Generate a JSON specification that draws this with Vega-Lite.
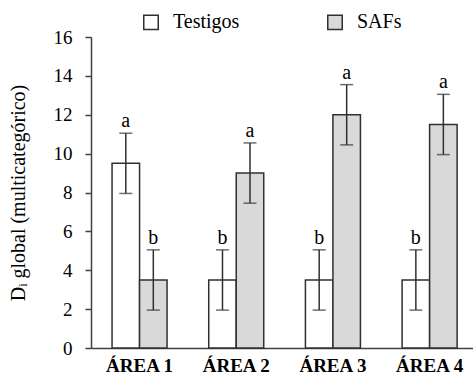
{
  "$schema": "https://vega.github.io/schema/vega-lite/v6.json",
  "width": 382,
  "height": 311,
  "autosize": "none",
  "padding": {"left": 91, "top": 37, "right": 0, "bottom": 37},
  "background": "white",
  "config": {
    "view": {"stroke": null},
    "font": "Liberation Serif",
    "axis": {"labelFont": "Liberation Serif", "titleFont": "Liberation Serif", "labelColor": "black", "titleColor": "black", "domainColor": "#404040", "tickColor": "#404040", "domainWidth": 1.5, "tickWidth": 1.5, "grid": false, "labelOverlap": false},
    "axisY": {"tickCount": 8, "labelFontSize": 19, "tickSize": 6, "labelPadding": 13, "titleFontSize": 20, "titleFontWeight": "normal", "titlePadding": 25, "labelFont": "Liberation Serif", "titleFont": "Liberation Serif"},
    "legend": {"labelFont": "Liberation Serif", "labelColor": "black"}
  },
  "data": {
    "values": [
      {"area": "ÁREA 1", "grupo": "Testigos", "valor": 9.5, "inf": 7.95, "sup": 11.05, "letra": "a"},
      {"area": "ÁREA 1", "grupo": "SAFs", "valor": 3.5, "inf": 1.95, "sup": 5.05, "letra": "b"},
      {"area": "ÁREA 2", "grupo": "Testigos", "valor": 3.5, "inf": 1.95, "sup": 5.05, "letra": "b"},
      {"area": "ÁREA 2", "grupo": "SAFs", "valor": 9.0, "inf": 7.45, "sup": 10.55, "letra": "a"},
      {"area": "ÁREA 3", "grupo": "Testigos", "valor": 3.5, "inf": 1.95, "sup": 5.05, "letra": "b"},
      {"area": "ÁREA 3", "grupo": "SAFs", "valor": 12.0, "inf": 10.45, "sup": 13.55, "letra": "a"},
      {"area": "ÁREA 4", "grupo": "Testigos", "valor": 3.5, "inf": 1.95, "sup": 5.05, "letra": "b"},
      {"area": "ÁREA 4", "grupo": "SAFs", "valor": 11.5, "inf": 9.95, "sup": 13.05, "letra": "a"}
    ]
  },
  "encoding": {
    "x": {
      "field": "area", "type": "nominal",
      "scale": {"paddingInner": 0.431, "paddingOuter": 0.191, "align": 0.57},
      "axis": {"title": null, "labelAngle": 0, "ticks": false, "labelFontSize": 19, "labelFontWeight": "bold", "labelPadding": 8, "labelFont": "Liberation Serif"}
    },
    "xOffset": {"field": "grupo", "type": "nominal", "sort": ["Testigos", "SAFs"], "scale": {"paddingInner": 0, "paddingOuter": 0}}
  },
  "layer": [
    {
      "mark": {"type": "bar", "stroke": "#303030", "strokeWidth": 1.5},
      "encoding": {
        "y": {
          "field": "valor", "type": "quantitative",
          "scale": {"domain": [0, 16], "nice": false},
          "title": "Dᵢ global (multicategórico)"
        },
        "fill": {
          "field": "grupo", "type": "nominal", "sort": ["Testigos", "SAFs"],
          "scale": {"domain": ["Testigos", "SAFs"], "range": ["#ffffff", "#d9d9d9"]},
          "legend": {"title": null, "orient": "none", "legendX": 50, "legendY": -25, "direction": "horizontal", "columns": 2, "columnPadding": 84, "symbolType": "square", "symbolSize": 210, "symbolStrokeColor": "#303030", "symbolStrokeWidth": 1.5, "labelFontSize": 20, "labelOffset": 12, "labelFont": "Liberation Serif"}
        }
      }
    },
    {
      "mark": {"type": "rule", "color": "#303030", "strokeWidth": 1.5},
      "encoding": {
        "y": {"field": "inf", "type": "quantitative"},
        "y2": {"field": "sup"}
      }
    },
    {
      "mark": {"type": "tick", "color": "#303030", "thickness": 1.5, "size": 13},
      "encoding": {"y": {"field": "inf", "type": "quantitative"}}
    },
    {
      "mark": {"type": "tick", "color": "#303030", "thickness": 1.5, "size": 13},
      "encoding": {"y": {"field": "sup", "type": "quantitative"}}
    },
    {
      "mark": {"type": "text", "baseline": "alphabetic", "dy": -6, "fontSize": 20, "color": "black", "font": "Liberation Serif"},
      "encoding": {
        "y": {"field": "sup", "type": "quantitative"},
        "text": {"field": "letra"}
      }
    }
  ]
}
